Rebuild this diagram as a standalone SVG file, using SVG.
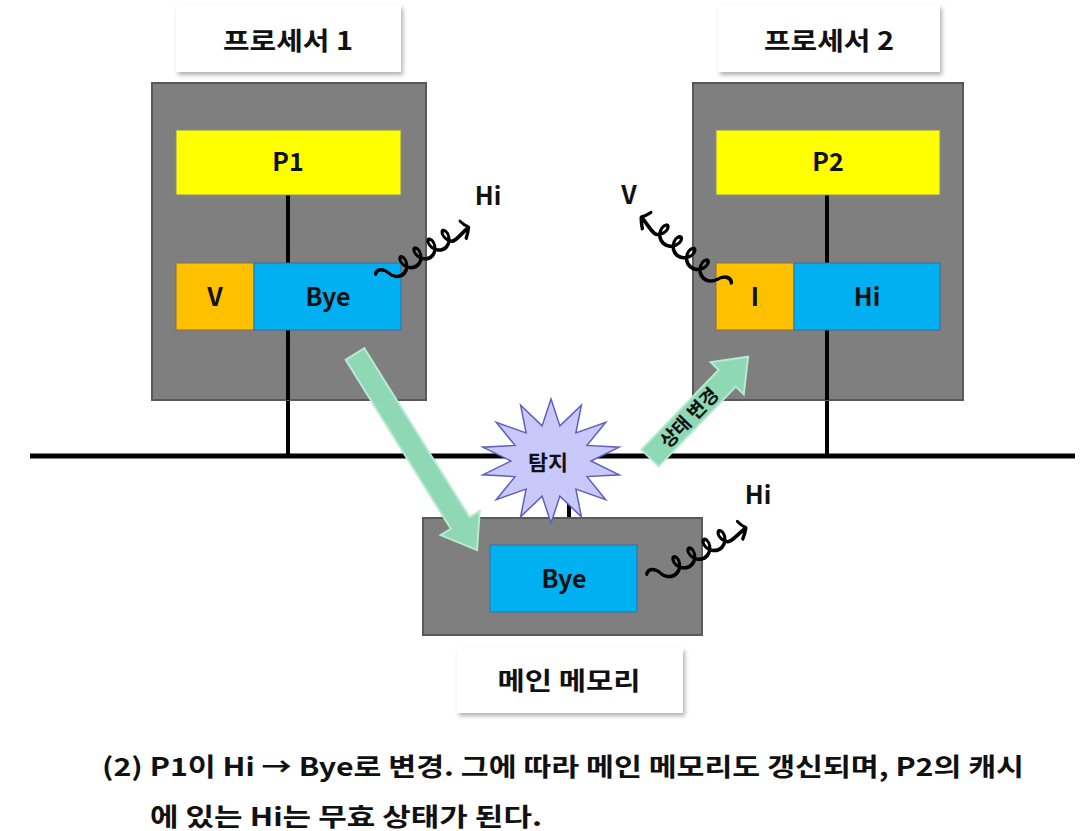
<svg xmlns="http://www.w3.org/2000/svg" width="1081" height="831" viewBox="0 0 1081 831">
<style>
text{font-family:"Noto Sans CJK KR","Noto Sans",sans-serif;font-weight:bold;fill:#111;text-anchor:middle}
.lbl{fill:#fff;filter:url(#sh)}
.gray{fill:#7f7f7f;stroke:#595959;stroke-width:2}
.yel{fill:#ffff00;stroke:#8a8a8a;stroke-width:1}
.blue{fill:#00b0f0;stroke:#3a6fa0;stroke-width:1}
.org{fill:#ffc000;stroke:#8a7040;stroke-width:1}
.wire{stroke:#000;stroke-width:4;fill:none}
.sq{fill:none;stroke:#000;stroke-width:2.8;stroke-linecap:round;stroke-linejoin:round}
.garr{fill:#8fd8b6;stroke:#b8e9d1;stroke-width:2}
.t25{font-size:25px}
.lb{font-size:25px}
</style>
<defs>
<filter id="sh" x="-10%" y="-10%" width="130%" height="140%">
<feDropShadow dx="2" dy="3" stdDeviation="2" flood-color="#000" flood-opacity="0.3"/>
</filter>
<path id="squig" d="M0,5 C4,8 10,6 12.15,0 L13.64,-2.29 15.98,-4.25 18.97,-5.54 22.29,-6 25.63,-5.54 28.62,-4.25 30.94,-2.29 32.44,0 33.02,2.29 32.76,4.25 31.84,5.54 30.58,6 29.32,5.54 28.41,4.25 28.14,2.29 28.73,0 30.22,-2.29 32.56,-4.25 35.55,-5.54 38.87,-6 42.21,-5.54 45.2,-4.25 47.52,-2.29 49.02,0 49.6,2.29 49.34,4.25 48.42,5.54 47.16,6 45.9,5.54 44.99,4.25 44.72,2.29 45.31,0 46.8,-2.29 49.14,-4.25 52.13,-5.54 55.45,-6 58.79,-5.54 61.78,-4.25 64.1,-2.29 65.6,0 66.18,2.29 65.92,4.25 65,5.54 63.74,6 62.48,5.54 61.57,4.25 61.3,2.29 61.89,0 63.38,-2.29 65.72,-4.25 68.71,-5.54 72.03,-6 75.37,-5.54 78.36,-4.25 80.68,-2.29 82.18,0 82.76,2.29 82.5,4.25 81.58,5.54 80.32,6 79.06,5.54 78.15,4.25 77.88,2.29 78.47,0 79.96,-2.29 82.3,-4.25 C86,-6 94,-3 104,-2 M96,-8 Q101,-5 104,-2 Q101,1.5 100,5"/>
</defs>
<rect width="1081" height="831" fill="#fff"/>

<g id="connectors">
<line x1="30" y1="456" x2="1075" y2="456" stroke="#000" stroke-width="5"/>
<line class="wire" x1="288" y1="195" x2="288" y2="263"/>
<line class="wire" x1="288" y1="330" x2="288" y2="456"/>
<line class="wire" x1="827" y1="195" x2="827" y2="263"/>
<line class="wire" x1="827" y1="330" x2="827" y2="456"/>
<line class="wire" x1="569" y1="456" x2="569" y2="518"/>
</g>

<g id="proc1-label">
<rect class="lbl" x="176" y="5" width="225" height="67"/>
<text class="lb" x="288" y="50" textLength="130" lengthAdjust="spacingAndGlyphs">프로세서 1</text>
</g>
<g id="proc2-label">
<rect class="lbl" x="718" y="5" width="222" height="67"/>
<text class="lb" x="829" y="50" textLength="130" lengthAdjust="spacingAndGlyphs">프로세서 2</text>
</g>

<g id="proc1">
<rect class="gray" x="152" y="83" width="274" height="317"/>
<line class="wire" x1="288" y1="195" x2="288" y2="263"/>
<line class="wire" x1="288" y1="330" x2="288" y2="400"/>
</g>
<g id="p1">
<rect class="yel" x="176" y="130" width="225" height="65"/>
<text class="t25" x="288" y="171">P1</text>
</g>
<g id="p1-cache">
<rect class="org" x="176" y="263" width="78" height="67"/>
<text class="t25" x="215" y="306">V</text>
<rect class="blue" x="254" y="263" width="147" height="67"/>
<text class="t25" x="328" y="306">Bye</text>
</g>

<g id="proc2">
<rect class="gray" x="693" y="83" width="270" height="317"/>
<line class="wire" x1="827" y1="195" x2="827" y2="263"/>
<line class="wire" x1="827" y1="330" x2="827" y2="400"/>
</g>
<g id="p2">
<rect class="yel" x="716" y="130" width="224" height="65"/>
<text class="t25" x="828" y="171">P2</text>
</g>
<g id="p2-cache">
<rect class="org" x="716" y="263" width="78" height="67"/>
<text class="t25" x="755" y="306">I</text>
<rect class="blue" x="794" y="263" width="146" height="67"/>
<text class="t25" x="867" y="306">Hi</text>
</g>

<g id="memory">
<rect class="gray" x="423" y="518" width="279" height="117"/>
<rect class="blue" x="490" y="545" width="147" height="67"/>
<text class="t25" x="564" y="588">Bye</text>
</g>
<g id="memory-label">
<rect class="lbl" x="457" y="648" width="226" height="65"/>
<text class="lb" x="569" y="690" textLength="143" lengthAdjust="spacingAndGlyphs">메인 메모리</text>
</g>

<g id="arrow-writeback">
<path class="garr" transform="translate(355,354) rotate(58.1)" d="M0,-11 L199,-11 L199,-23 L231,0 L199,23 L199,11 L0,11 Z"/>
</g>

<g id="snoop">
<polygon fill="#c9c8fb" stroke="#5f5fc0" stroke-width="1.5" points="551,399 559.9,425.9 581.4,405.1 575.9,432.9 605.7,422.3 587,445.4 619.2,447.2 591,461 619.2,474.8 587,476.6 605.7,499.7 575.9,489.1 581.4,516.9 559.9,496.1 551,523 542.1,496.1 520.6,516.9 526.1,489.1 496.3,499.7 515,476.6 482.8,474.8 511,461 482.8,447.2 515,445.4 496.3,422.3 526.1,432.9 520.6,405.1 542.1,425.9"/>
<text x="548" y="470" style="font-size:21px" textLength="40" lengthAdjust="spacingAndGlyphs">탐지</text>
</g>

<g id="arrow-state">
<g transform="translate(650,458) rotate(-45.9)">
<path class="garr" d="M0,-12 L111,-12 L111,-23 L141,0 L111,23 L111,12 L0,12 Z"/>
<text x="56" y="7" style="font-size:19px">상태 변경</text>
</g>
</g>

<g id="msg1">
<use href="#squig" class="sq" transform="translate(379,280) rotate(-32) scale(1,-1.35)"/>
<text class="t25" x="488" y="205">Hi</text>
</g>
<g id="msg2">
<use href="#squig" class="sq" transform="translate(727,288) rotate(-139) scale(1.07,1.35)"/>
<text class="t25" x="629" y="204">V</text>
</g>
<g id="msg3">
<use href="#squig" class="sq" transform="translate(650,580) rotate(-30) scale(1.05,-1.35)"/>
<text class="t25" x="758" y="504">Hi</text>
</g>

<g id="caption">
<text x="102" y="776" style="font-size:25px;text-anchor:start" textLength="922" lengthAdjust="spacingAndGlyphs">(2) P1이 Hi → Bye로 변경. 그에 따라 메인 메모리도 갱신되며, P2의 캐시</text>
<text x="150" y="826" style="font-size:25px;text-anchor:start" textLength="392" lengthAdjust="spacingAndGlyphs">에 있는 Hi는 무효 상태가 된다.</text>
</g>
</svg>
